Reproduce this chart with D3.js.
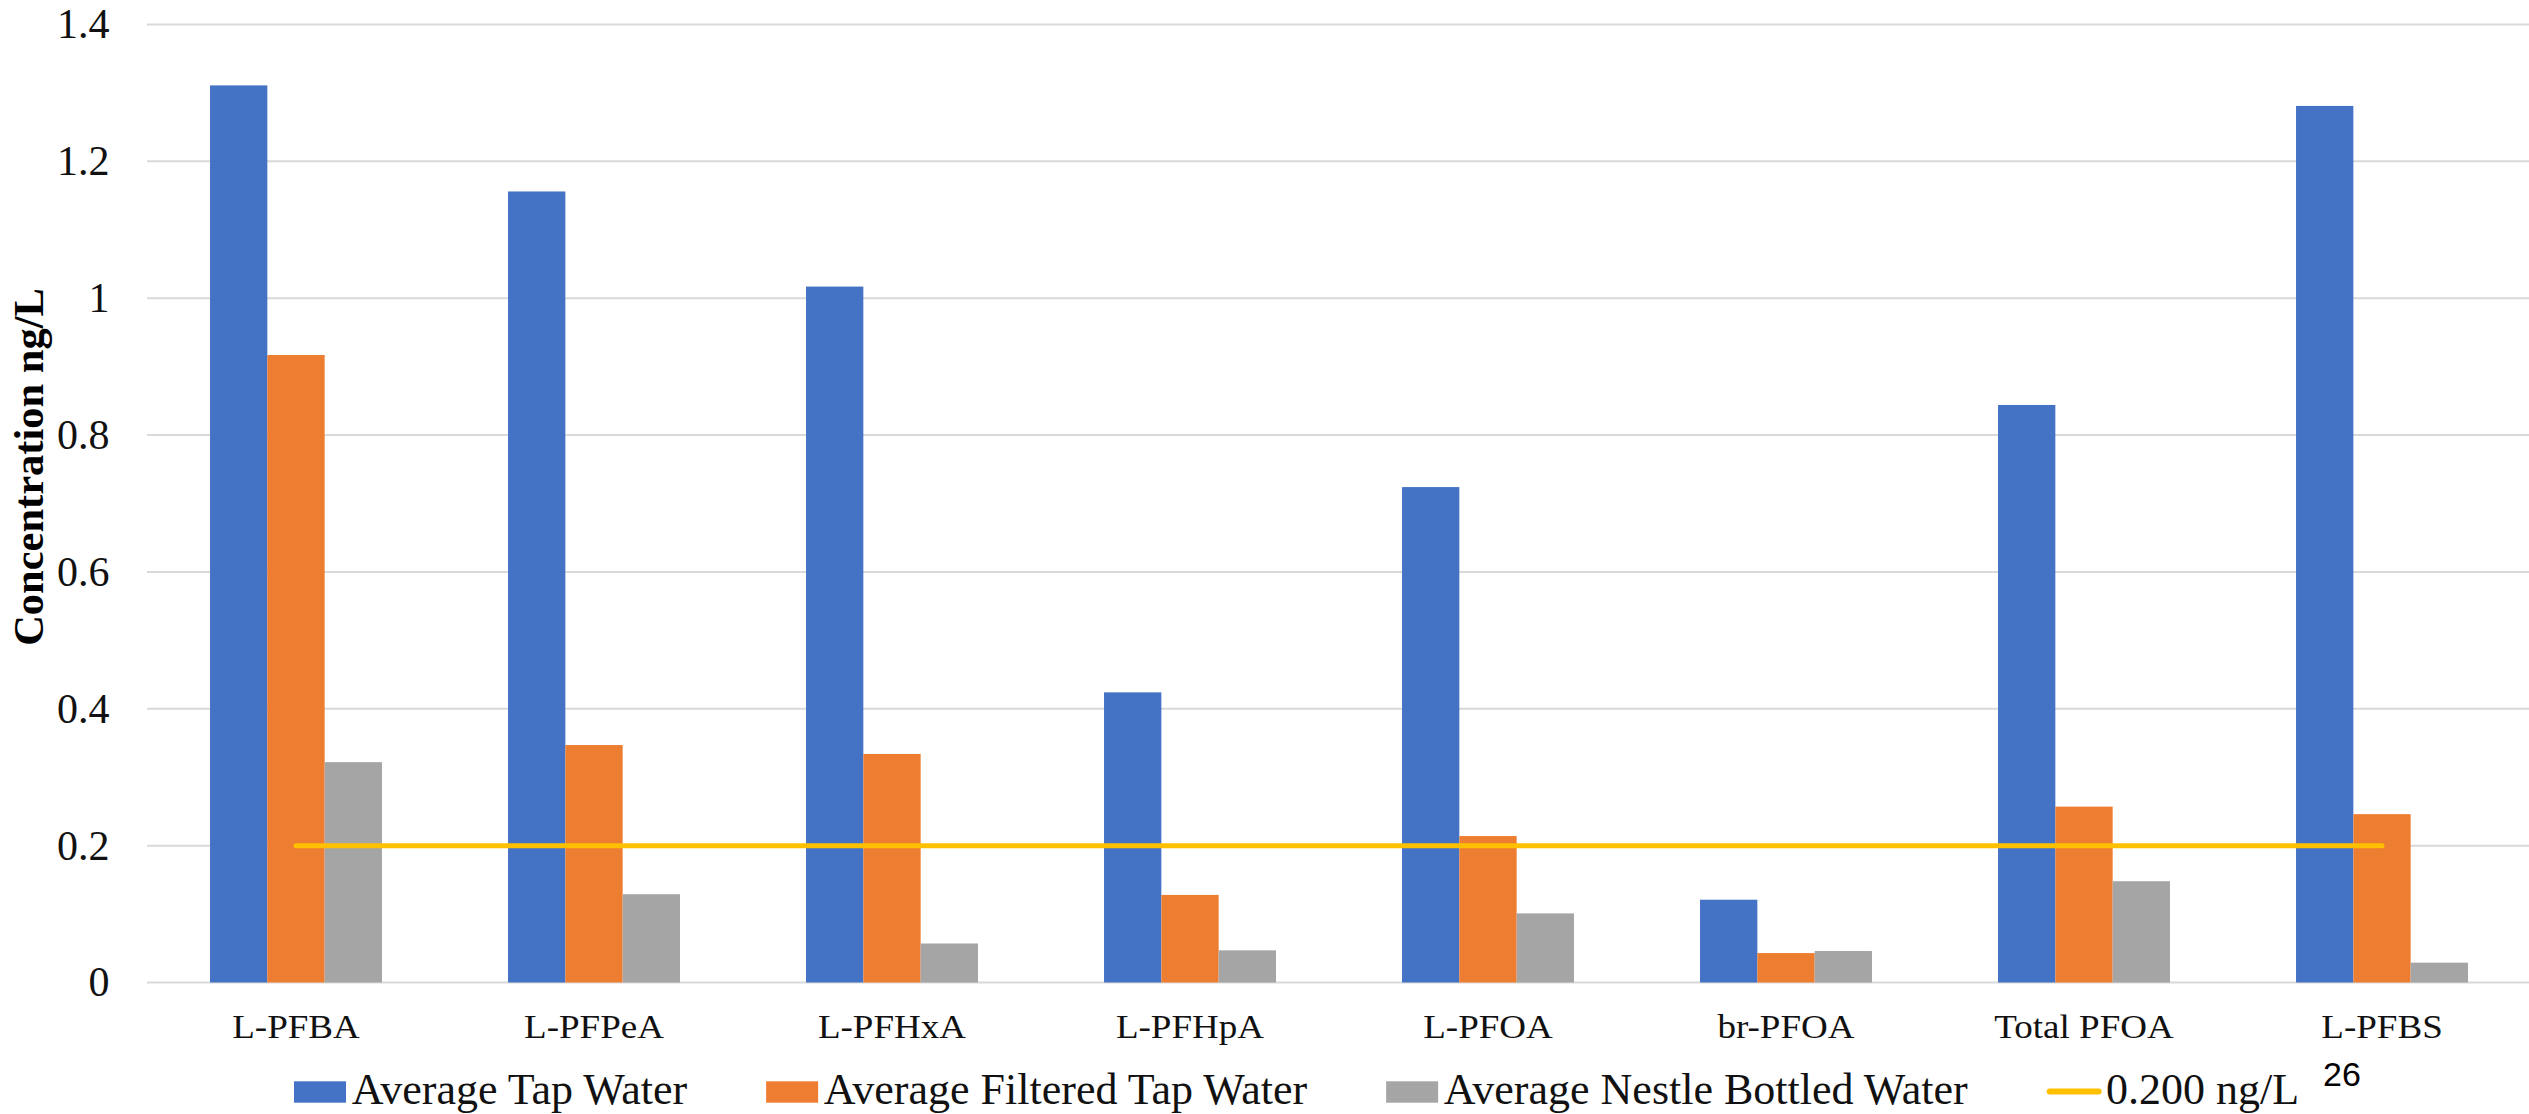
<!DOCTYPE html>
<html>
<head>
<meta charset="utf-8">
<script src="https://cdn.jsdelivr.net/npm/d3@7"></script>
<style>
  body { margin: 0; background: #fff; }
</style>
</head>
<body>
<div id="chart"></div>
<script>
// PFAS concentrations - tap vs filtered vs bottled water

const categories = ['L-PFBA', 'L-PFPeA', 'L-PFHxA', 'L-PFHpA', 'L-PFOA', 'br-PFOA', 'Total PFOA', 'L-PFBS'];
const tapWater = [1.311, 1.156, 1.017, 0.424, 0.724, 0.121, 0.844, 1.281];
const filteredWater = [0.917, 0.347, 0.334, 0.128, 0.214, 0.043, 0.257, 0.246];
const bottledWater = [0.322, 0.129, 0.057, 0.047, 0.101, 0.046, 0.148, 0.029];
const limitLine = [0.2, 0.2, 0.2, 0.2, 0.2, 0.2, 0.2, 0.2];
const seriesNames = ['Average Tap Water', 'Average Filtered Tap Water', 'Average Nestle Bottled Water'];
const lineName = '0.200 ng/L';
const yTicks = [0, 0.2, 0.4, 0.6, 0.8, 1, 1.2, 1.4];
const yTickLabels = ['0', '0.2', '0.4', '0.6', '0.8', '1', '1.2', '1.4'];

const colors = ['#4472C4', '#ED7D31', '#A5A5A5'];
const lineColor = '#FFC000';
const serif = '"Liberation Serif", "Times New Roman", serif';

const W = 2529, H = 1114;
const plot = {left: 147, right: 2531, top: 24.5, bottom: 982.5};

const svg = d3.select('#chart').append('svg')
    .attr('width', W)
    .attr('height', H)
    .attr('font-family', serif);

// scales
const x = d3.scaleBand()
    .domain(categories)
    .range([plot.left, plot.right])
    .paddingInner(0.423)
    .paddingOuter(0.2115);

const xSub = d3.scaleBand()
    .domain(d3.range(seriesNames.length))
    .range([0, x.bandwidth()]);

const y = d3.scaleLinear()
    .domain([0, 1.4])
    .range([plot.bottom, plot.top]);

// grid lines
svg.append('g')
    .selectAll('line')
    .data(yTicks)
    .enter()
    .append('line')
    .attr('x1', plot.left)
    .attr('x2', W)
    .attr('y1', d => y(d))
    .attr('y2', d => y(d))
    .attr('stroke', '#d9d9d9')
    .attr('stroke-width', 2);

// y axis
const yAxis = svg.append('g')
    .attr('transform', `translate(${plot.left},0)`)
    .call(d3.axisLeft(y)
        .tickValues(yTicks)
        .tickSize(0)
        .tickPadding(37.5)
        .tickFormat((d, i) => yTickLabels[i]));
yAxis.attr('font-family', serif);
yAxis.select('.domain').remove();
yAxis.selectAll('text')
    .attr('font-size', 42)
    .attr('fill', '#111');

// x axis
const xAxis = svg.append('g')
    .attr('transform', `translate(0,${plot.bottom})`)
    .call(d3.axisBottom(x).tickSize(0));
xAxis.attr('font-family', serif);
xAxis.select('.domain').remove();
xAxis.selectAll('text')
    .attr('font-size', 34)
    .attr('fill', '#111')
    .attr('y', 56)
    .attr('dy', 0)
    .attr('transform', 'scale(1.09,1)');

// bars
const seriesData = [tapWater, filteredWater, bottledWater];
seriesData.forEach((values, s) => {
    svg.append('g')
        .selectAll('rect')
        .data(values)
        .enter()
        .append('rect')
        .attr('x', (d, i) => x(categories[i]) + xSub(s))
        .attr('width', xSub.bandwidth())
        .attr('y', d => y(d))
        .attr('height', d => y(0) - y(d))
        .attr('fill', colors[s]);
});

// 0.200 ng/L line
const line = d3.line()
    .x((d, i) => x(categories[i]) + x.bandwidth() / 2)
    .y(d => y(d));

svg.append('path')
    .datum(limitLine)
    .attr('d', line)
    .attr('fill', 'none')
    .attr('stroke', lineColor)
    .attr('stroke-width', 5)
    .attr('stroke-linecap', 'round');

// y axis title
svg.append('text')
    .attr('transform', 'translate(43,467) rotate(-90)')
    .attr('text-anchor', 'middle')
    .attr('font-family', serif)
    .attr('font-size', 42.5)
    .attr('font-weight', 'bold')
    .attr('fill', '#000')
    .text('Concentration ng/L');

// legend
const legend = svg.append('g').attr('font-family', serif);
const legendItems = seriesNames.map((name, i) => ({name: name, color: colors[i], type: 'rect'}))
    .concat([{name: lineName, color: lineColor, type: 'line'}]);
let lx = 294;
legendItems.forEach(item => {
    if (item.type === 'rect') {
        legend.append('rect')
            .attr('x', lx)
            .attr('y', 1081.3)
            .attr('width', 52)
            .attr('height', 21.4)
            .attr('fill', item.color);
        lx += 57.7;
    } else {
        legend.append('line')
            .attr('x1', lx + 3)
            .attr('x2', lx + 52)
            .attr('y1', 1091.5)
            .attr('y2', 1091.5)
            .attr('stroke', item.color)
            .attr('stroke-width', 6)
            .attr('stroke-linecap', 'round');
        lx += 59.3;
    }
    const t = legend.append('text')
        .attr('x', lx)
        .attr('y', 1104)
        .attr('font-family', serif)
        .attr('font-size', 44)
        .attr('fill', '#111')
        .text(item.name);
    lx += t.node().getComputedTextLength() + 79;
});

// page number
svg.append('text')
    .attr('x', 2323)
    .attr('y', 1086)
    .attr('font-family', '"Liberation Sans", Arial, sans-serif')
    .attr('font-size', 34)
    .attr('fill', '#000')
    .text('26');
</script>
</body>
</html>
